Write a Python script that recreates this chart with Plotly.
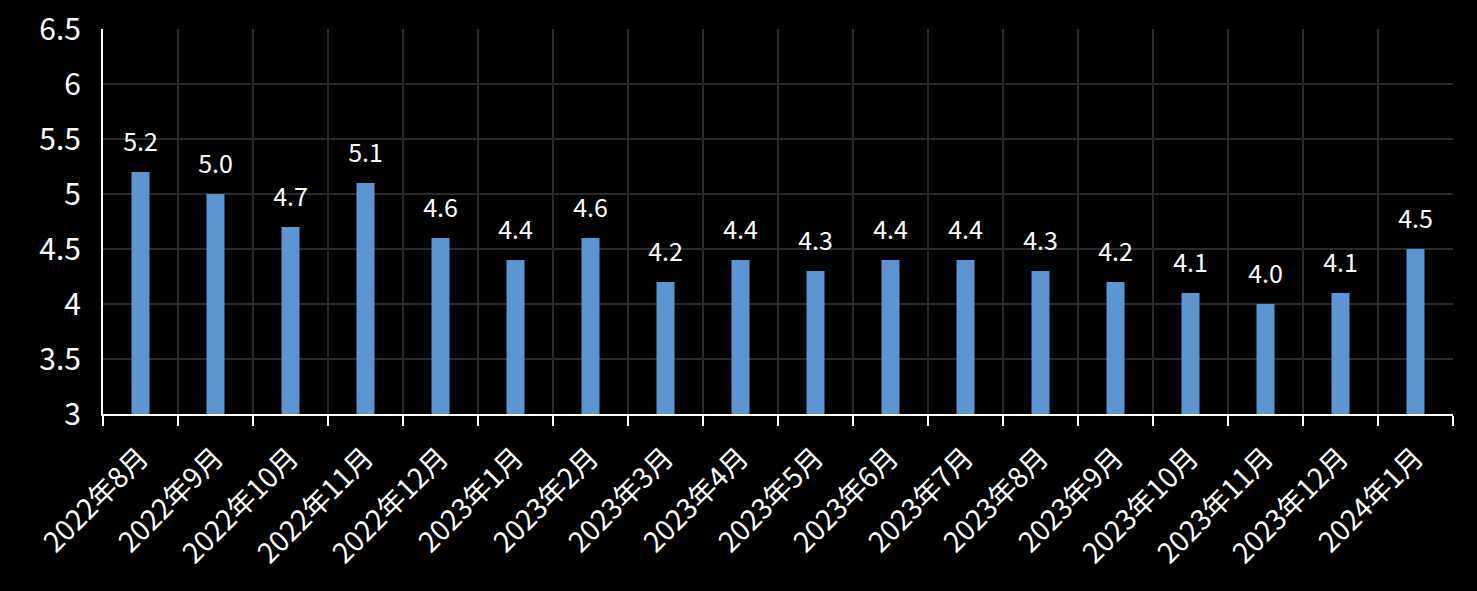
import plotly.graph_objects as go

# Données
mois = ["2022年8月", "2022年9月", "2022年10月", "2022年11月", "2022年12月",
        "2023年1月", "2023年2月", "2023年3月", "2023年4月", "2023年5月",
        "2023年6月", "2023年7月", "2023年8月", "2023年9月", "2023年10月",
        "2023年11月", "2023年12月", "2024年1月"]
valeurs = [5.2, 5.0, 4.7, 5.1, 4.6, 4.4, 4.6, 4.2, 4.4, 4.3,
           4.4, 4.4, 4.3, 4.2, 4.1, 4.0, 4.1, 4.5]
graduations_y = [3, 3.5, 4, 4.5, 5, 5.5, 6, 6.5]

police = "Noto Sans CJK SC, Microsoft YaHei, sans-serif"

fig = go.Figure()
fig.add_trace(go.Bar(x=mois, y=valeurs,
                     marker=dict(color="#5b96d3", line=dict(width=0)),
                     width=0.24, hoverinfo="x+y"))

# étiquettes au-dessus des barres (marqueurs invisibles pour l'écart)
fig.add_trace(go.Scatter(x=mois, y=valeurs, mode="markers+text",
                         marker=dict(size=22, opacity=0),
                         texttemplate="%{y:.1f}", textposition="top center",
                         textfont=dict(color="white", size=25, family=police),
                         hoverinfo="skip", cliponaxis=False))

fig.update_layout(
    width=1477, height=591,
    paper_bgcolor="black", plot_bgcolor="black",
    margin=dict(l=103, r=24, t=29, b=177),
    showlegend=False,
    font=dict(family=police, color="white"),
    xaxis=dict(type="category", tickson="boundaries", automargin=False,
               range=[-0.5, len(mois) - 0.5],
               showgrid=True, gridcolor="#2a2a2a", gridwidth=2,
               showline=True, linecolor="white", linewidth=2,
               ticks="outside", tickcolor="white", ticklen=10, tickwidth=2,
               tickangle=-45, ticklabelstandoff=14,
               tickfont=dict(size=28, color="white")),
    yaxis=dict(range=[3, 6.5], tickvals=graduations_y, automargin=False,
               ticktext=[f"{v:g}" for v in graduations_y],
               showgrid=True, gridcolor="#2a2a2a", gridwidth=2,
               showline=True, linecolor="white", linewidth=2,
               zeroline=False, ticks="", ticklabelstandoff=14,
               tickfont=dict(size=30, color="white")),
)

# fond noir sur toute la page (pas de marge blanche autour du graphique)
fig.write_html("out.html", config={"displayModeBar": False},
               post_script="document.body.style.margin='0';"
                           "document.body.style.background='black';")
